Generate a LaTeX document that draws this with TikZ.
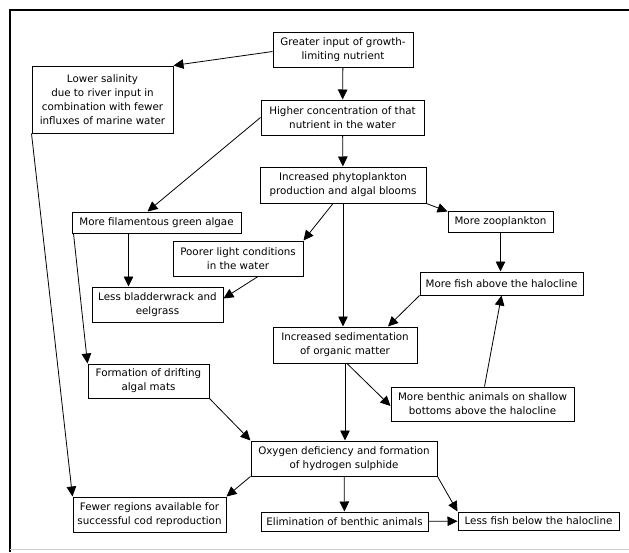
\documentclass[tikz,border=0pt]{standalone}
\usepackage{fontspec}
\setmainfont{DejaVu Sans}
\usetikzlibrary{arrows.meta, calc, positioning}

\begin{document}
\begin{tikzpicture}[x=1pt, y=-1pt, >={Triangle[length=10pt, width=9.5pt]},
  every node/.style={draw, line width=1pt, align=center, inner sep=1pt,
    font=\fontsize{10.3}{14}\selectfont},
  every path/.style={line width=0.8pt}
 ]
 \useasboundingbox (0,0) rectangle (629,552);
 \draw [line width=1.1pt] (10,552) -- (10,10) -- (629,10);
 \draw [gray!40, line width=0.6pt] (10,549) -- (629,549);

 \node [minimum width=140, minimum height=35] (G) at (343,49.5) {Greater input of growth-\\limiting nutrient};
 \node [minimum width=141, minimum height=67] (L) at (102.5,99.5) {Lower salinity\\due to river input in\\combination with fewer\\influxes of marine water};
 \node [minimum width=163, minimum height=35] (H) at (342.5,117.5) {Higher concentration of that\\nutrient in the water};
 \node [minimum width=166, minimum height=36] (P) at (343,185) {Increased phytoplankton\\production and algal blooms};
 \node [minimum width=169, minimum height=21] (F) at (156.5,222.5) {More filamentous green algae};
 \node [minimum width=130, minimum height=35] (Lt) at (238,258.5) {Poorer light conditions\\in the water};
 \node [minimum width=131, minimum height=35] (B) at (157.5,304.5) {Less bladderwrack and\\eelgrass};
 \node [minimum width=105, minimum height=21] (Z) at (500.5,221.5) {More zooplankton};
 \node [minimum width=163, minimum height=23] (FA) at (501.5,283.5) {More fish above the halocline};
 \node [minimum width=144, minimum height=36] (S) at (345,345) {Increased sedimentation\\of organic matter};
 \node [minimum width=183, minimum height=34] (BA) at (482.5,404) {More benthic animals on shallow\\bottoms above the halocline};
 \node [minimum width=121, minimum height=34] (M) at (148.5,381) {Formation of drifting\\algal mats};
 \node [minimum width=186, minimum height=35] (O) at (344,458.5) {Oxygen deficiency and formation\\of hydrogen sulphide};
 \node [minimum width=153, minimum height=35] (C) at (149.5,514.5) {Fewer regions available for\\successful cod reproduction};
 \node [minimum width=167, minimum height=19] (E) at (344.5,521.5) {Elimination of benthic animals};
 \node [minimum width=161, minimum height=18] (LF) at (538.5,521) {Less fish below the halocline};

 \draw [->] ([yshift=-2pt]G.west) to (L.north east);
 \draw [->] (G) to (H);
 \draw [->] (H) to (P);
 \draw [->] (H.west) to ([xshift=-9pt]F.north);
 \draw [->] ([xshift=-10pt]P.south) to (Lt.north east);
 \draw [->] (P.south) to (P.south |- S.north);
 \draw [->] (P.south east) to ([yshift=-1pt]Z.north west);
 \draw [->] ([xshift=-28pt]F.south) to ([xshift=-28pt]F.south |- B.north);
 \draw [->] ([xshift=20pt]Lt.south) to ([yshift=6pt]B.east);
 \draw [->] (Z) to (Z |- FA.north);
 \draw [->] (FA.south west) to ([xshift=43pt]S.north);
 \draw [->] (S.south) to (S.south |- O.north);
 \draw [->] ([xshift=2pt]S.south) to ([yshift=-2pt]BA.west);
 \draw [->] ([xshift=2pt]BA.north) to (FA.south);
 \draw [->] ([xshift=2pt]F.south west) to (M.north west);
 \draw [->] (M.south east) to (O.north west);
 \draw [->] (L.south west) to (C.north west);
 \draw [->] (O.south west) to (C.north east);
 \draw [->] (O) to (E);
 \draw [->] (O.south east) to (LF.north west);
 \draw [->] (E) to (LF);
\end{tikzpicture}
\end{document}
